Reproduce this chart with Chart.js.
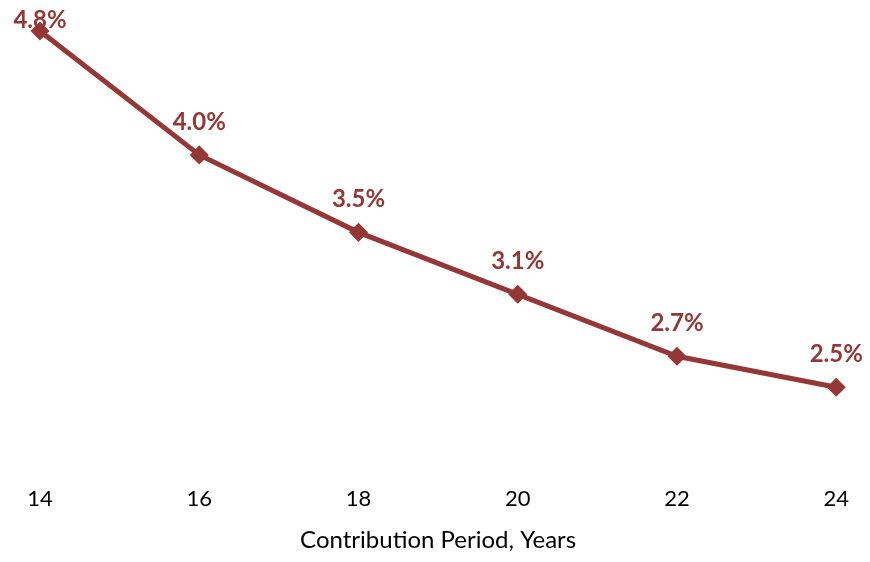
<!DOCTYPE html>
<html>
<head>
<meta charset="utf-8">
<script src="https://cdn.jsdelivr.net/npm/chart.js@4/dist/chart.umd.min.js"></script>
<style>
  html, body { margin: 0; padding: 0; background: #fff; overflow: hidden; }
  #wrap { width: 870px; height: 562px; position: relative; }
  canvas { display: block; }
</style>
</head>
<body>
<div id="wrap"><canvas id="myChart"></canvas></div>
<script>
const years = ['14', '16', '18', '20', '22', '24'];
const rates = [4.8, 4.0, 3.5, 3.1, 2.7, 2.5];
const lineColor = '#953735';

// draws the bold % labels above each point
const pointLabels = {
    id: 'pointLabels',
    afterDatasetsDraw(chart) {
        const ctx = chart.ctx;
        const meta = chart.getDatasetMeta(0);
        ctx.save();
        ctx.font = 'bold 24px Lato';
        ctx.fillStyle = lineColor;
        ctx.textAlign = 'center';
        ctx.textBaseline = 'middle';
        meta.data.forEach((pt, i) => {
            // keep the top label inside the canvas
            const y = Math.max(pt.y - 33, 20);
            ctx.fillText(rates[i].toFixed(1) + '%', pt.x, y);
        });
        ctx.restore();
    }
};

const config = {
    type: 'line',
    data: {
        labels: years,
        datasets: [{
            data: rates,
            borderColor: lineColor,
            backgroundColor: lineColor,
            borderWidth: 5,
            pointStyle: 'rectRot',
            pointRadius: 6,
            tension: 0
        }]
    },
    options: {
        responsive: true,
        maintainAspectRatio: false,
        animation: false,
        layout: { autoPadding: false, padding: { left: 40, right: 30, top: 0, bottom: 14.5 } },
        plugins: {
            legend: { display: false },
            tooltip: { enabled: false }
        },
        scales: {
            x: {
                offset: false,
                grid: { display: false, drawTicks: false },
                border: { display: false },
                ticks: { color: '#000', font: { family: 'Lato', size: 22 }, padding: 21, maxRotation: 0 },
                title: {
                    display: true,
                    text: 'Contribution Period, Years',
                    color: '#000',
                    font: { family: 'Lato', size: 24, lineHeight: 0.6 },
                    padding: { top: 0, bottom: 0 }
                }
            },
            y: {
                display: false,
                min: 2,
                max: 5
            }
        }
    },
    plugins: [pointLabels]
};

new Chart(document.getElementById('myChart'), config);
</script>
</body>
</html>
